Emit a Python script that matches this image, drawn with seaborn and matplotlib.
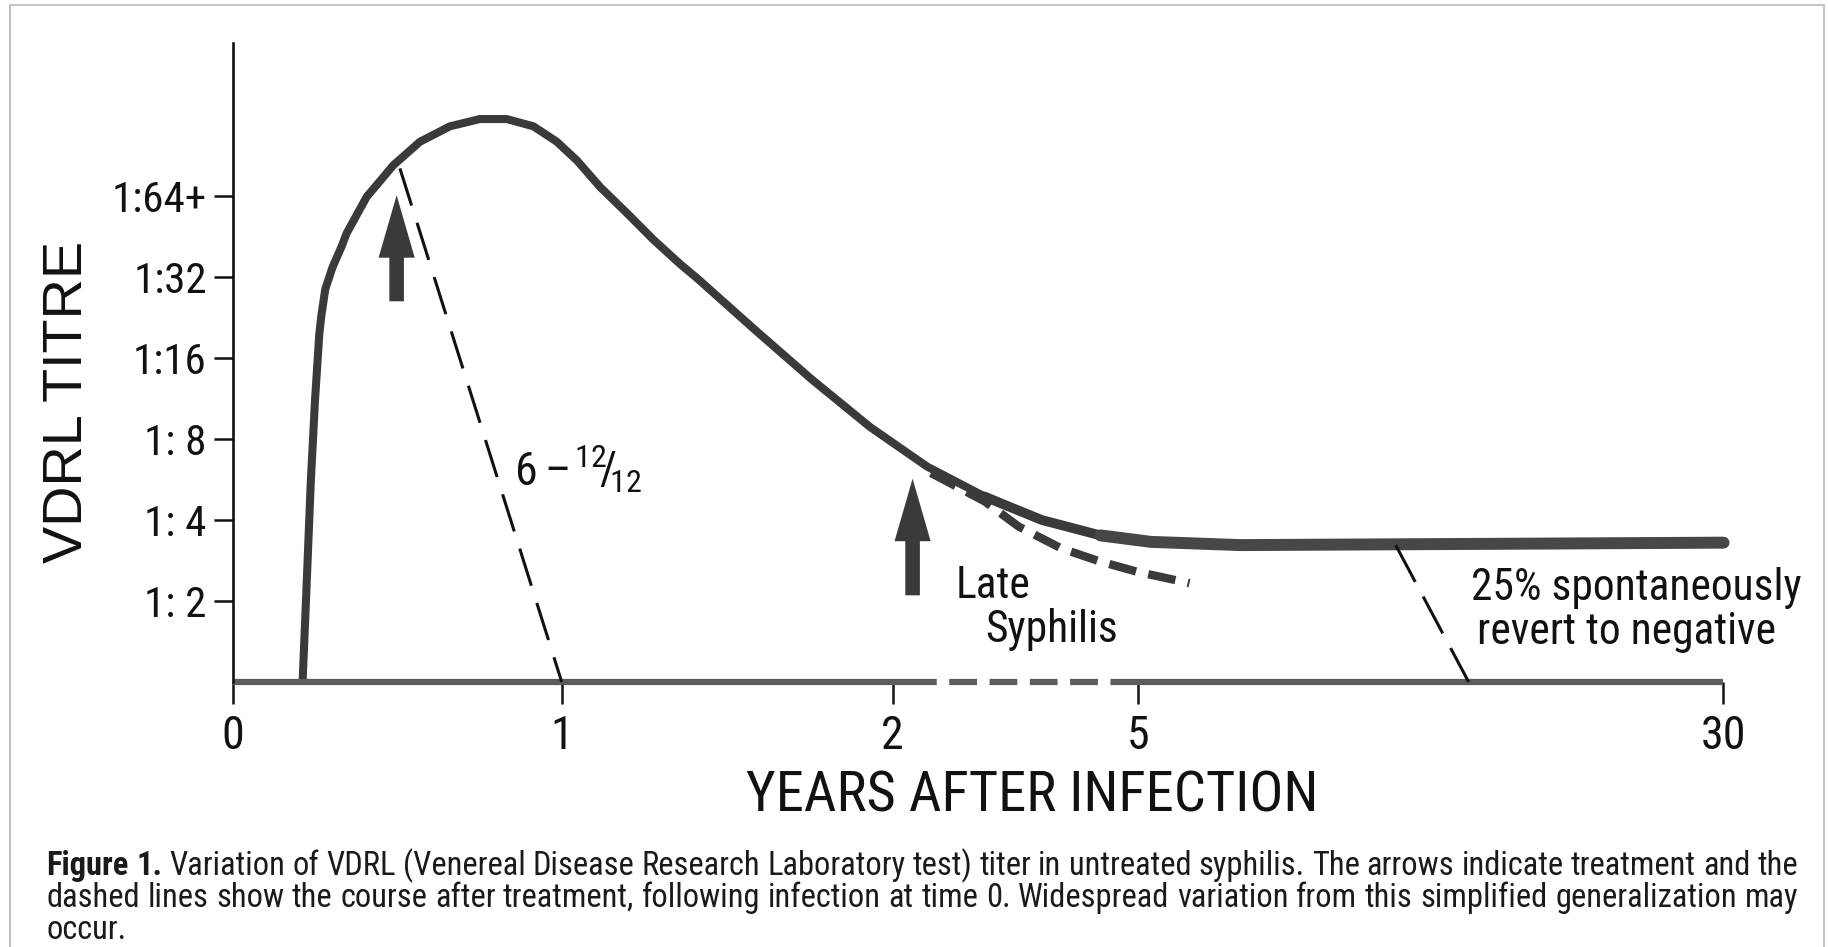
import os
import numpy as np
import pandas as pd
import matplotlib
matplotlib.use("Agg")
import matplotlib.pyplot as plt
import seaborn as sns
from matplotlib import font_manager as fm
from matplotlib.font_manager import FontProperties
from matplotlib.patches import Rectangle

# ---------------- data (schematic positions) ----------------
# x axis: position units (tick "0","1","2","5","30" are not linear in years)
xtick_pos = [0.0, 0.999, 2.005, 2.752, 4.531]
xtick_labels = ["0", "1", "2", "5", "30"]
# y axis: log2 titre levels
ytick_pos = [1, 2, 3, 4, 5, 6]
ytick_labels = ["1: 2", "1: 4", "1: 8", "1:16", "1:32", "1:64+"]

# untreated course (thick solid curve)
curve_x = [0.211, 0.2235, 0.2357, 0.2488, 0.2619, 0.268, 0.280, 0.302, 0.330, 0.345,
           0.406, 0.487, 0.568, 0.659, 0.750, 0.832, 0.913, 0.984, 1.045, 1.116,
           1.197, 1.278, 1.359, 1.412, 1.586, 1.761, 1.936, 2.110, 2.285, 2.332,
           2.459, 2.637, 2.790, 3.062, 4.532]
curve_y = [0.00, 1.22, 2.45, 3.48, 4.30, 4.52, 4.85, 5.12, 5.38, 5.54,
           5.99, 6.38, 6.67, 6.86, 6.95, 6.95, 6.86, 6.67, 6.44, 6.11,
           5.79, 5.46, 5.16, 4.98, 4.35, 3.73, 3.15, 2.66, 2.29, 2.21,
           2.00, 1.81, 1.73, 1.69, 1.72]

# early treatment (thin dashed)
early_x = [0.507, 0.999]
early_y = [6.34, 0.00]
# late treatment (thick dashed)
late_x = [2.122, 2.285, 2.388, 2.518, 2.634, 2.750, 2.908]
late_y = [2.58, 2.23, 1.92, 1.65, 1.49, 1.36, 1.22]
# spontaneous reversion (thin dashed)
revert_x = [3.535, 3.757]
revert_y = [1.69, 0.00]
# baseline (negative) segments
base_solid1_x = [0.0, 2.055]
base_dash_x = [2.055, 2.71]
base_solid2_x = [2.71, 4.531]

# treatment arrows
arrow_x = [0.497, 2.066]
arrow_top = [6.01, 2.51]
arrow_bottom = [4.70, 1.07]

# ---------------- fonts ----------------
sns.set_theme(style="white")


def pick_condensed(bold=False):
    prefs = ["liberation", "roboto", "opensans", "dejavu", "noto", "lato", "inter"]
    best = None
    for f in fm.fontManager.ttflist:
        b = os.path.basename(f.fname).lower()
        nm = f.name.lower().replace(" ", "")
        st = str(f.stretch).lower()
        if not ("narrow" in b or "condensed" in b or "narrow" in nm or "condensed" in nm
                or st in ("condensed", "semi-condensed")):
            continue
        if any(k in b for k in ["mono", "serif", "italic", "oblique", "light", "thin",
                                "medium", "black", "extra", "semi", "ultra"]):
            continue
        if f.style != "normal":
            continue
        w = f.weight if isinstance(f.weight, (int, float)) else fm.weight_dict.get(f.weight, 400)
        if bold and w < 600:
            continue
        if not bold and not (350 <= w <= 500):
            continue
        rank = next((i for i, k in enumerate(prefs) if k in nm or k in b), 99)
        if best is None or rank < best[0]:
            best = (rank, f.fname)
    return best[1] if best else None


REG_FILE = pick_condensed(False)
BOLD_FILE = pick_condensed(True)


def fpc(size, bold=False):
    path = BOLD_FILE if bold else REG_FILE
    if path:
        return FontProperties(fname=path, size=size)
    return FontProperties(family="Liberation Sans", weight="bold" if bold else "normal", size=size)


def fpr(size):
    return FontProperties(family="Liberation Sans", size=size)


plt.rcParams["font.family"] = ["Liberation Sans", "DejaVu Sans"]
plt.rcParams["lines.scale_dashes"] = False
plt.rcParams["mathtext.fontset"] = "custom"
plt.rcParams["mathtext.default"] = "regular"

INK = "#111111"
CURVE = "#3a3a3a"
BASE = "#5c5c5c"

fig = plt.figure(figsize=(18.28, 9.47), dpi=100)
fig.patch.set_facecolor("white")
ax = fig.add_axes([0.12757, 0.1601, 0.8545, 0.804])
ax.set_facecolor("white")
ax.set_xlim(0, 4.75)
ax.set_ylim(-1.4, 8.0)
fig.canvas.draw()
R = fig.canvas.get_renderer()


def text_w(s, prop):
    t = fig.text(0, 0, s, fontproperties=prop)
    bb = t.get_window_extent(renderer=R)
    t.remove()
    return bb.width


def fit(s, target, maker, base=20.0):
    return base * target / text_w(s, maker(base))


# ---------------- marks ----------------
df_curve = pd.DataFrame({"x": curve_x, "y": curve_y})
sns.lineplot(data=df_curve, x="x", y="y", ax=ax, color=CURVE, linewidth=5.8,
             estimator=None, sort=False, solid_capstyle="butt", solid_joinstyle="round")
mid = df_curve[df_curve["x"] >= 2.28]
sns.lineplot(data=mid, x="x", y="y", ax=ax, color=CURVE, linewidth=7.0,
             estimator=None, sort=False, solid_capstyle="round")
flat = df_curve[df_curve["x"] >= 2.63]
sns.lineplot(data=flat, x="x", y="y", ax=ax, color="#474747", linewidth=8.6,
             estimator=None, sort=False, solid_capstyle="round")

for xs, ls in [(base_solid1_x, "-"), (base_dash_x, (0, (20, 9))), (base_solid2_x, "-")]:
    sns.lineplot(x=xs, y=[0.0, 0.0], ax=ax, color=BASE, linewidth=4.5,
                 estimator=None, linestyle=ls, solid_capstyle="butt", dash_capstyle="butt")

sns.lineplot(x=early_x, y=early_y, ax=ax, color=INK, linewidth=2.2, estimator=None,
             linestyle=(0, (28, 13)), dash_capstyle="butt")
sns.lineplot(x=late_x, y=late_y, ax=ax, color=CURVE, linewidth=6.0, estimator=None,
             sort=False, linestyle=(0, (20, 9)), dash_capstyle="butt")
sns.lineplot(x=revert_x, y=revert_y, ax=ax, color=INK, linewidth=2.2, estimator=None,
             linestyle=(0, (30, 12)), dash_capstyle="butt")

for xa, yt, yb in zip(arrow_x, arrow_top, arrow_bottom):
    ax.annotate("", xy=(xa, yt), xytext=(xa, yb),
                arrowprops=dict(arrowstyle="simple,head_length=45,head_width=26,tail_width=10.5",
                                mutation_scale=1, color="#3a3a3a", shrinkA=0, shrinkB=0, lw=0))

# ---------------- axes / ticks ----------------
for s in ["top", "right"]:
    ax.spines[s].set_visible(False)
ax.spines["bottom"].set_position(("data", 0))
ax.spines["bottom"].set_visible(False)
ax.spines["left"].set_bounds(0, 7.89)
ax.spines["left"].set_color(INK)
ax.spines["left"].set_linewidth(1.9)

ax.set_xticks(xtick_pos)
ax.set_xticklabels(xtick_labels, fontproperties=fpc(33), color=INK)
ax.set_yticks(ytick_pos)
ax.set_yticklabels(ytick_labels, fontproperties=fpc(31), color=INK)
ax.tick_params(axis="x", direction="out", length=16, width=1.8, color=INK, pad=7, bottom=True)
ax.tick_params(axis="y", direction="out", length=14, width=1.8, color=INK, pad=5, left=True)
ax.grid(False)

xl_size = fit("YEARS AFTER INFECTION", 571.0, fpc)
ax.set_xlabel("YEARS AFTER INFECTION", fontproperties=fpc(xl_size), color=INK)
ax.xaxis.set_label_coords(0.5112, -0.0005)
ax.xaxis.label.set_va("center")
yl_size = fit("VDRL TITRE", 322.0, fpr)
ax.set_ylabel("VDRL TITRE", fontproperties=fpr(yl_size), color=INK)
ax.yaxis.set_label_coords(-0.106, 0.5164)
ax.yaxis.label.set_va("center")
ax.yaxis.label.set_ha("center")

# ---------------- annotations ----------------
ax.text(0.858, 2.43, "6", fontproperties=fpc(33), color=INK, ha="left", va="baseline")
ax.text(0.985, 2.43, "–", fontproperties=fpc(33), color=INK, ha="center", va="baseline")
ax.text(1.036, 2.43, r"$^{12}\!/\!_{12}$", fontproperties=fpc(33), color=INK,
        ha="left", va="baseline")

ann_size = fit("25% spontaneously", 330.0, fpc)
ax.text(2.198, 1.037, "Late", fontproperties=fpc(ann_size), color=INK, ha="left", va="baseline")
ax.text(2.287, 0.489, "Syphilis", fontproperties=fpc(ann_size), color=INK, ha="left", va="baseline")
ax.text(3.764, 1.012, "25% spontaneously", fontproperties=fpc(ann_size), color=INK,
        ha="left", va="baseline")
ax.text(3.782, 0.469, "revert to negative", fontproperties=fpc(ann_size), color=INK,
        ha="left", va="baseline")

# ---------------- caption (justified lines) ----------------
line1 = "Variation of VDRL (Venereal Disease Research Laboratory test) titer in untreated syphilis. The arrows indicate treatment and the"
line2 = "dashed lines show the course after treatment, following infection at time 0. Widespread variation from this simplified generalization may"
line3 = "occur."
CAP_L, CAP_R = 46.6, 1798.0
cs = fit("Figure 1. " + line1, CAP_R - CAP_L, fpc)
cap_color = "#1a1a1a"


def justified(words, y_px):
    ts = [fig.text(0, 1 - y_px / 947, w, fontproperties=p, color=cap_color, va="baseline")
          for w, p in words]
    ws = [t.get_window_extent(renderer=R).width for t in ts]
    gap = (CAP_R - CAP_L - sum(ws)) / (len(ts) - 1)
    x = CAP_L
    for t, w in zip(ts, ws):
        t.set_x(x / 1828)
        x += w + gap


w1 = [("Figure", fpc(cs, True)), ("1.", fpc(cs, True))] + [(w, fpc(cs)) for w in line1.split()]
w2 = [(w, fpc(cs)) for w in line2.split()]
justified(w1, 875)
justified(w2, 907)
fig.text(CAP_L / 1828, 1 - 939 / 947, line3, fontproperties=fpc(cs), color=cap_color, va="baseline")

# light frame of the scanned page
fig.patches.append(Rectangle((10 / 1828, -0.05), (1824 - 10) / 1828, (947 - 5) / 947 + 0.05,
                             transform=fig.transFigure, fill=False, edgecolor="#bdbdbd",
                             linewidth=1.3, zorder=-1))

fig.savefig("out.png", dpi=100)
